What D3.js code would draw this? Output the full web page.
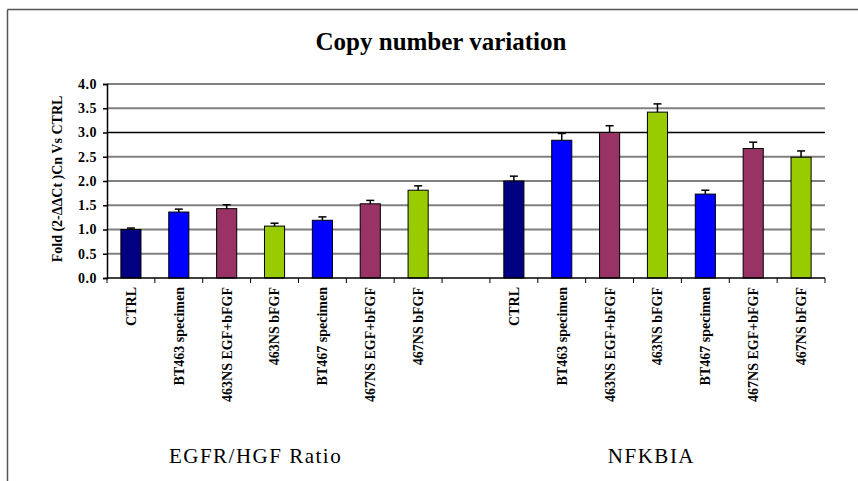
<!DOCTYPE html>
<html>
<head>
<meta charset="utf-8">
<script src="https://cdn.jsdelivr.net/npm/d3@7"></script>
<style>
  body { margin: 0; background: #fff; }
</style>
</head>
<body>
<svg id="chart" width="858" height="481"></svg>
<script>
// categories and values
const groups = ['EGFR/HGF Ratio', 'NFKBIA']
const labels = ['CTRL', 'BT463 specimen', '463NS EGF+bFGF', '463NS bFGF', 'BT467 specimen', '467NS EGF+bFGF', '467NS bFGF']
const egfrValues = [1.00, 1.36, 1.43, 1.07, 1.19, 1.53, 1.81]
const egfrErrors = [0.03, 0.06, 0.08, 0.06, 0.07, 0.07, 0.09]
const nfkbiaValues = [2.00, 2.84, 3.00, 3.42, 1.73, 2.67, 2.49]
const nfkbiaErrors = [0.10, 0.14, 0.14, 0.17, 0.08, 0.13, 0.13]
const barColors = ['#000080', '#0000ff', '#993366', '#99cc00', '#0000ff', '#993366', '#99cc00']
const yTicks = [0, 0.5, 1, 1.5, 2, 2.5, 3, 3.5, 4]

const width = 858
const height = 481
const margin = { top: 84, right: 33, bottom: 203, left: 107 }
const serif = '"Liberation Serif", "Times New Roman", serif'

// one slot per bar plus an empty slot between the two groups
const slots = [
    ...labels.map(l => `${groups[0]}|${l}`),
    'gap',
    ...labels.map(l => `${groups[1]}|${l}`)
]
const bars = [
    ...labels.map((l, i) => ({ key: `${groups[0]}|${l}`, label: l, value: egfrValues[i], err: egfrErrors[i], color: barColors[i] })),
    ...labels.map((l, i) => ({ key: `${groups[1]}|${l}`, label: l, value: nfkbiaValues[i], err: nfkbiaErrors[i], color: barColors[i] }))
]

const x = d3.scaleBand()
    .domain(slots)
    .range([margin.left, width - margin.right])
    .paddingInner(0.58)
    .paddingOuter(0.29)

const y = d3.scaleLinear()
    .domain([0, 4])
    .range([height - margin.bottom, margin.top])

const svg = d3.select('#chart').style('font-family', serif)

// frame lines (top and left only, like the source image)
svg.append('line')
    .attr('x1', 7.5).attr('x2', width).attr('y1', 9.5).attr('y2', 9.5)
    .attr('stroke', '#555').attr('stroke-width', 1.5)
svg.append('line')
    .attr('x1', 7.5).attr('x2', 7.5).attr('y1', 9.5).attr('y2', height)
    .attr('stroke', '#555').attr('stroke-width', 1.5)

// title
svg.append('text')
    .attr('x', 441).attr('y', 50)
    .attr('text-anchor', 'middle')
    .style('font-family', serif)
    .style('font-size', '25px').style('font-weight', 'bold')
    .text('Copy number variation')

// gridlines
svg.append('g')
    .selectAll('line')
    .data(yTicks.filter(t => t > 0))
    .join('line')
    .attr('x1', margin.left).attr('x2', width - margin.right)
    .attr('y1', d => y(d)).attr('y2', d => y(d))
    .attr('stroke', d => d === 3 ? '#000' : '#808080')
    .attr('stroke-width', d => d === 3 ? 1.5 : 2)

// y axis
const yAxis = svg.append('g')
    .attr('transform', `translate(${margin.left},0)`)
    .call(d3.axisLeft(y).tickValues(yTicks).tickFormat(d3.format('.1f')).tickSize(4))
yAxis.attr('font-family', null)
yAxis.select('.domain').attr('stroke', '#000').attr('stroke-width', 1.5)
yAxis.selectAll('.tick line').attr('stroke', '#000').attr('stroke-width', 1.5)
yAxis.selectAll('.tick text')
    .attr('x', -10)
    .style('font-family', serif)
    .style('font-size', '14px').style('font-weight', 'bold')
    .style('letter-spacing', '0.5px')
    .attr('fill', '#000')

svg.append('text')
    .attr('transform', `translate(62,${(y(0) + y(4)) / 2 - 2}) rotate(-90)`)
    .attr('text-anchor', 'middle')
    .style('font-family', serif)
    .style('font-size', '14px').style('font-weight', 'bold')
    .text('Fold (2-ΔΔCt )Cn Vs CTRL')

// bars
svg.append('g')
    .selectAll('rect')
    .data(bars)
    .join('rect')
    .attr('x', d => x(d.key))
    .attr('y', d => y(d.value))
    .attr('width', x.bandwidth())
    .attr('height', d => y(0) - y(d.value))
    .attr('fill', d => d.color)
    .attr('stroke', '#000')
    .attr('stroke-width', 1)

// error bars (upper only)
const err = svg.append('g').attr('stroke', '#000').attr('stroke-width', 1.5)
err.selectAll('line.stem')
    .data(bars)
    .join('line')
    .attr('class', 'stem')
    .attr('x1', d => x(d.key) + x.bandwidth() / 2)
    .attr('x2', d => x(d.key) + x.bandwidth() / 2)
    .attr('y1', d => y(d.value))
    .attr('y2', d => y(d.value + d.err))
err.selectAll('line.cap')
    .data(bars)
    .join('line')
    .attr('class', 'cap')
    .attr('x1', d => x(d.key) + x.bandwidth() / 2 - 4)
    .attr('x2', d => x(d.key) + x.bandwidth() / 2 + 4)
    .attr('y1', d => y(d.value + d.err))
    .attr('y2', d => y(d.value + d.err))

// x axis line with ticks at the slot boundaries
svg.append('line')
    .attr('x1', margin.left).attr('x2', width - margin.right)
    .attr('y1', y(0)).attr('y2', y(0))
    .attr('stroke', '#000').attr('stroke-width', 1.5)
const step = x.step()
svg.append('g')
    .selectAll('line')
    .data(d3.range(slots.length + 1))
    .join('line')
    .attr('x1', i => margin.left + i * step)
    .attr('x2', i => margin.left + i * step)
    .attr('y1', y(0)).attr('y2', y(0) + 5)
    .attr('stroke', '#000').attr('stroke-width', 1)

// rotated category labels
svg.append('g')
    .selectAll('text')
    .data(bars)
    .join('text')
    .attr('transform', d => `translate(${x(d.key) + x.bandwidth() / 2},${y(0) + 9}) rotate(-90)`)
    .attr('dy', '0.35em')
    .attr('text-anchor', 'end')
    .style('font-family', serif)
    .style('font-size', '14px').style('font-weight', 'bold')
    .text(d => d.label)

// group labels under each half
const groupCenter = g => {
    const keys = labels.map(l => `${g}|${l}`)
    return (x(keys[0]) + x(keys[keys.length - 1]) + x.bandwidth()) / 2
}
svg.append('g')
    .selectAll('text')
    .data(groups)
    .join('text')
    .attr('x', (g, i) => groupCenter(g) + (i === 0 ? -19 : -6))
    .attr('y', 463)
    .attr('text-anchor', 'middle')
    .style('font-family', serif)
    .style('font-size', '21px')
    .style('letter-spacing', '1.5px')
    .text(g => g)
</script>
</body>
</html>
